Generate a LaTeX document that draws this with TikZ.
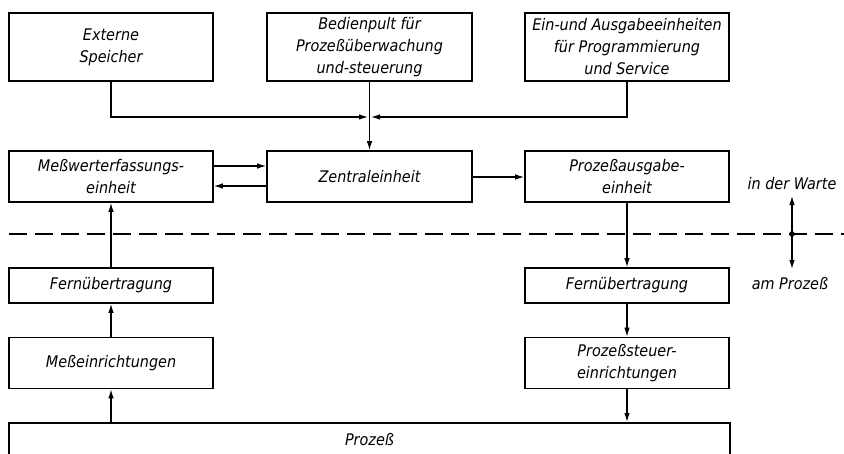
\documentclass[tikz,border=0pt]{standalone}
\usepackage{fontspec}
\setmainfont{DejaVu Sans Condensed}
\usetikzlibrary{arrows.meta}
\tikzset{
  box/.style={draw, line width=1.6pt, align=center, inner sep=0pt,
    font=\fontsize{16}{22}\selectfont\itshape},
  colL/.style={minimum width=204pt},
  colM/.style={minimum width=205pt},
  conn/.style={line width=1.2pt},
  arr/.style={conn, -{Latex[length=9pt,width=5.5pt]}},
  lbl/.style={font=\fontsize{16}{22}\selectfont\itshape, inner sep=4pt},
}
\begin{document}
\begin{tikzpicture}[x=1pt,y=-1pt]
\useasboundingbox (0,0) rectangle (844,453);
% top row
\node[box,colL,minimum height=68pt] (ext) at (111,47) {Externe\\Speicher};
\node[box,colM,minimum height=68pt] (bed) at (369.5,47) {Bedienpult für\\Prozeßüberwachung\\und-steuerung};
\node[box,colL,minimum height=68pt] (ein) at (627,47) {Ein-und Ausgabeeinheiten\\für Programmierung\\und Service};
% second row
\node[box,colL,minimum height=51pt] (mess) at (111,176.5) {Meßwerterfassungs-\\einheit};
\node[box,colM,minimum height=51pt] (zen) at (369.5,176.5) {Zentraleinheit};
\node[box,colL,minimum height=51pt] (pa) at (627,176.5) {Prozeßausgabe-\\einheit};
% lower rows
\node[box,colL,minimum height=35pt] (fl) at (111,285.5) {Fernübertragung};
\node[box,colL,minimum height=35pt] (fr) at (627,285.5) {Fernübertragung};
\node[box,colL,minimum height=51pt] (me) at (111,363) {Meßeinrichtungen};
\node[box,colL,minimum height=51pt] (ps) at (627,363) {Prozeßsteuer-\\einrichtungen};
% process box (bottom edge beyond page)
\node[draw,line width=1.6pt,minimum width=721pt,minimum height=62pt,anchor=north,inner sep=0pt] (proz) at (369.5,422) {};
\node[lbl] (prozt) at (369.5,440) {Prozeß};
% bus
\coordinate (J) at (bed.south |- 0,117);
\draw[arr] (ext.south) |- ([xshift=-1.5pt]J);
\draw[arr] (ein.south) |- ([xshift=1.5pt]J);
\draw[arr] (bed.south) -- (zen.north);
% second row links
\draw[arr] (mess.east |- 0,166) -- (zen.west |- 0,166);
\draw[arr] (zen.west |- 0,186) -- (mess.east |- 0,186);
\draw[arr] (zen.east |- 0,177) -- (pa.west |- 0,177);
% left chain
\draw[arr] (fl.north) -- (mess.south);
\draw[arr] (me.north) -- (fl.south);
\draw[arr] (me.south |- proz.north) -- (me.south);
% right chain
\draw[arr] (pa.south) -- (fr.north);
\draw[arr] (fr.south) -- (ps.north);
\draw[arr] (ps.south) -- (ps.south |- proz.north);
% boundary
\draw[line width=1.3pt, dash pattern=on 18pt off 8pt] (9,234) -- (844,234);
\coordinate (W) at (792,234);
\node[lbl] (warte) at (792,184) {in der Warte};
\node[lbl] (amp) at (790,284) {am Prozeß};
\fill (W) circle (2.8pt);
\draw[arr] (W) -- (W |- 0,196);
\draw[arr] (W) -- (W |- 0,269);
\end{tikzpicture}
\end{document}
